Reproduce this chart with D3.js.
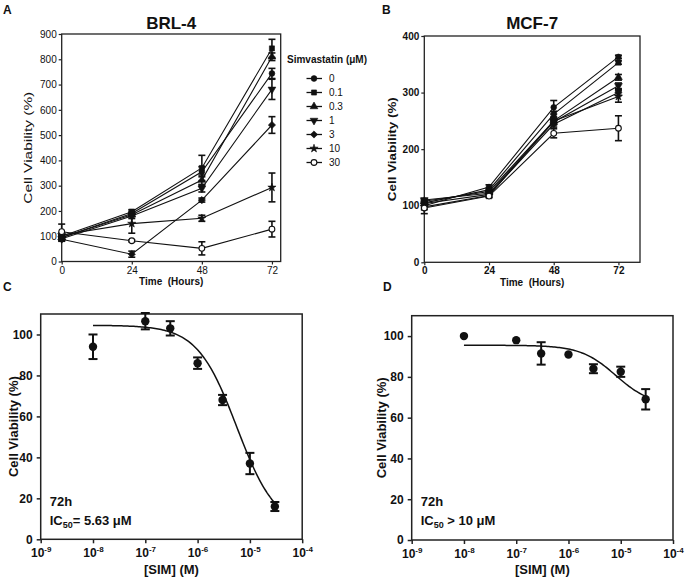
<!DOCTYPE html>
<html><head><meta charset="utf-8">
<script src="https://cdn.jsdelivr.net/npm/d3@7"></script>
<style>
body{margin:0;background:#fff}
svg{display:block}
text{font-family:"Liberation Sans",Arial,Helvetica,sans-serif;fill:#111}
</style>
</head><body>
<svg id="chart" width="687" height="580"></svg>
<script>
// ---------------- DATA ----------------
const timePoints = [0, 24, 48, 72];
const simConcs = ["0", "0.1", "0.3", "1", "3", "10", "30"];
// BRL-4 cell viability (%) per concentration at 0,24,48,72 h
const brlMeans = [
  [95, 190, 355, 744],
  [100, 197, 370, 843],
  [95, 185, 322, 810],
  [90, 180, 290, 681],
  [88, 29, 243, 540],
  [105, 150, 171, 293],
  [118, 82, 52, 128]
];
const brlErrors = [
  [8, 8, 20, 20],
  [8, 8, 50, 36],
  [8, 8, 20, 15],
  [8, 10, 15, 40],
  [8, 12, 8, 33],
  [10, 38, 12, 57],
  [30, 4, 26, 31]
];
// MCF-7
const mcfMeans = [
  [100, 133, 274, 363],
  [105, 128, 262, 353],
  [108, 125, 250, 327],
  [110, 122, 248, 312],
  [104, 120, 244, 300],
  [98, 118, 250, 293],
  [96, 117, 228, 237]
];
const mcfErrors = [
  [4, 4, 12, 3],
  [3, 3, 5, 3],
  [3, 3, 5, 5],
  [3, 3, 5, 5],
  [3, 3, 5, 5],
  [12, 3, 5, 10],
  [3, 3, 8, 22]
];
const brlYTicks = [0, 100, 200, 300, 400, 500, 600, 700, 800, 900];
const mcfYTicks = [0, 100, 200, 300, 400];

// dose response (72 h)
const doseConcs = [1e-8, 1e-7, 3e-7, 1e-6, 3e-6, 1e-5, 3e-5];
const brlDoseViab = [94, 106.5, 103, 86, 68, 37, 16];
const brlDoseErr = [6, 4, 3.5, 2.8, 2.5, 5.2, 2.2];
const mcfDoseViab = [100, 98, 91.5, 91, 84, 82.5, 69];
const mcfDoseErr = [0, 0, 5.5, 0, 2.2, 2.5, 5];
const doseYTicks = [0, 20, 40, 60, 80, 100];
const doseXTicks = [1e-9, 1e-8, 1e-7, 1e-6, 1e-5, 1e-4];
// fitted sigmoidal parameters (top, bottom, IC50 [M], Hill slope)
const brlFit = {top: 104.5, bottom: 5, ic50: 5.63e-6, hill: 1.15};
const mcfFit = {top: 95.5, bottom: 66, ic50: 8e-6, hill: 1.3};

// ---------------- DRAW ----------------
const svg = d3.select("#chart");
const FONT = '"Liberation Sans",Arial,Helvetica,sans-serif';

function markerPath(i, size) {
  const types = [d3.symbolCircle, d3.symbolSquare, d3.symbolTriangle, d3.symbolTriangle,
                 d3.symbolSquare, d3.symbolStar, d3.symbolCircle];
  return d3.symbol().type(types[i]).size(size)();
}
function markerTransform(i) {
  if (i === 3) return " rotate(180)";
  if (i === 4) return " rotate(45)";
  return "";
}
function drawMarker(g, i, cx, cy, size) {
  g.append("path")
    .attr("d", markerPath(i, i === 5 ? size * 0.8 : size))
    .attr("transform", `translate(${cx},${cy})` + markerTransform(i))
    .attr("fill", i === 6 ? "#fff" : "#111")
    .attr("stroke", "#111")
    .attr("stroke-width", i === 6 ? 1.1 : 0.6);
}

function timePanel(o) {
  const g = svg.append("g");
  const x = d3.scaleLinear().domain(o.xDomain).range(o.xRange);
  const y = d3.scaleLinear().domain(o.yDomain).range(o.yRange);

  // frame
  g.append("rect")
    .attr("x", o.xRange[0]).attr("y", o.yRange[1])
    .attr("width", o.xRange[1] - o.xRange[0]).attr("height", o.yRange[0] - o.yRange[1])
    .attr("fill", "none").attr("stroke", "#222").attr("stroke-width", 1.3);

  const ax = g.append("g").attr("transform", `translate(0,${o.yRange[0]})`)
    .call(d3.axisBottom(x).tickValues(timePoints).tickSize(3).tickSizeOuter(0).tickPadding(2));
  const ay = g.append("g").attr("transform", `translate(${o.xRange[0]},0)`)
    .call(d3.axisLeft(y).tickValues(o.yTicks).tickSize(3).tickSizeOuter(0).tickPadding(2));
  [ax, ay].forEach(a => {
    a.select(".domain").remove();
    a.selectAll("line").attr("stroke", "#222").attr("stroke-width", 1.2);
    a.selectAll("text").style("font-family", FONT).style("font-size", o.tickFont + "px")
      .style("font-weight", o.tickWeight).attr("fill", "#222");
  });

  const line = d3.line().x((d, j) => x(timePoints[j])).y(d => y(d));
  o.means.forEach((s, i) => {
    g.append("path").attr("d", line(s)).attr("fill", "none")
      .attr("stroke", "#111").attr("stroke-width", 1.1);
  });
  o.means.forEach((s, i) => {
    s.forEach((v, j) => {
      const e = o.errors[i][j];
      const cx = x(timePoints[j]);
      if (e > 0) {
        const eg = g.append("g").attr("stroke", "#111").attr("stroke-width", 1.6);
        eg.append("line").attr("x1", cx).attr("x2", cx).attr("y1", y(v - e)).attr("y2", y(v + e));
        [v - e, v + e].forEach(b => eg.append("line")
          .attr("x1", cx - 3.5).attr("x2", cx + 3.5).attr("y1", y(b)).attr("y2", y(b)));
      }
    });
  });
  o.means.forEach((s, i) => {
    s.forEach((v, j) => drawMarker(g, i, x(timePoints[j]), y(v), 26));
  });

  // title
  g.append("text").attr("x", (o.xRange[0] + o.xRange[1]) / 2).attr("y", o.titleY)
    .attr("text-anchor", "middle").style("font-size", "17px").style("font-weight", "bold")
    .text(o.title);
  // axis titles
  g.append("text").attr("x", (o.xRange[0] + o.xRange[1]) / 2).attr("y", o.xTitleY)
    .attr("text-anchor", "middle").style("font-size", "10px").style("font-weight", "bold")
    .attr("xml:space", "preserve").text("Time  (Hours)");
  g.append("text")
    .attr("transform", `translate(${o.yTitleX},${(o.yRange[0] + o.yRange[1]) / 2}) rotate(-90)`)
    .attr("text-anchor", "middle").style("font-size", "10px").style("font-weight", o.yTitleWeight)
    .attr("textLength", o.yTitleLen).attr("lengthAdjust", "spacingAndGlyphs")
    .text("Cell Viability (%)");
  return {x, y, g};
}

const pA = timePanel({
  xDomain: [0, 75], xRange: [61.7, 280.7], yDomain: [0, 900], yRange: [261.5, 34],
  yTicks: brlYTicks, means: brlMeans, errors: brlErrors, title: "BRL-4",
  titleY: 29, xTitleY: 285, yTitleX: 32, yTitleLen: 112, tickFont: 10, tickWeight: "normal", yTitleWeight: "normal"
});
const pB = timePanel({
  xDomain: [0, 80], xRange: [424.3, 640], yDomain: [0, 400], yRange: [262.3, 36],
  yTicks: mcfYTicks, means: mcfMeans, errors: mcfErrors, title: "MCF-7",
  titleY: 29, xTitleY: 286, yTitleX: 396, yTitleLen: 104, tickFont: 10, tickWeight: "bold", yTitleWeight: "bold"
});

// legend for panel A
const leg = svg.append("g");
leg.append("text").attr("x", 287).attr("y", 63).style("font-size", "10px").style("font-weight", "bold")
  .text("Simvastatin (\u03bcM)");
simConcs.forEach((c, i) => {
  const yy = 78.5 + i * 14;
  leg.append("line").attr("x1", 306.5).attr("x2", 322).attr("y1", yy).attr("y2", yy)
    .attr("stroke", "#111").attr("stroke-width", 1.3);
  drawMarker(leg, i, 314, yy, 26);
  leg.append("text").attr("x", 329).attr("y", yy + 3.8).style("font-size", "10px").text(c);
});

function dosePanel(o) {
  const g = svg.append("g");
  const x = d3.scaleLog().domain([1e-9, 1e-4]).range(o.xRange);
  const y = d3.scaleLinear().domain([0, 110]).range(o.yRange);

  g.append("rect")
    .attr("x", o.xRange[0]).attr("y", o.yRange[1])
    .attr("width", o.xRange[1] - o.xRange[0]).attr("height", o.yRange[0] - o.yRange[1])
    .attr("fill", "none").attr("stroke", "#222").attr("stroke-width", 1.5);

  const ax = g.append("g").attr("transform", `translate(0,${o.yRange[0]})`)
    .call(d3.axisBottom(x).tickValues(doseXTicks).tickSize(4).tickSizeOuter(0).tickFormat(""));
  ax.selectAll(".tick").append("text")
    .attr("y", 18).attr("text-anchor", "middle").attr("fill", "#111")
    .style("font-family", FONT).style("font-size", "12px").style("font-weight", "bold")
    .each(function(d) {
      const t = d3.select(this);
      t.append("tspan").text("10");
      t.append("tspan").attr("dy", -5).style("font-size", "8px").text(String(Math.round(Math.log10(d))));
    });
  const ay = g.append("g").attr("transform", `translate(${o.xRange[0]},0)`)
    .call(d3.axisLeft(y).tickValues(doseYTicks).tickSize(4).tickSizeOuter(0).tickPadding(4));
  [ax, ay].forEach(a => {
    a.select(".domain").remove();
    a.selectAll("line").attr("stroke", "#222").attr("stroke-width", 1.5);
  });
  ay.selectAll("text").style("font-family", FONT).style("font-size", "12px")
    .style("font-weight", "bold").attr("fill", "#111");

  // fitted curve
  const f = o.fit;
  const hill = c => f.bottom + (f.top - f.bottom) / (1 + Math.pow(c / f.ic50, f.hill));
  const samples = d3.range(0, 121).map(k => Math.pow(10, -8 + k * (Math.log10(3e-5) + 8) / 120));
  g.append("path").attr("d", d3.line().x(c => x(c)).y(c => y(hill(c)))(samples))
    .attr("fill", "none").attr("stroke", "#111").attr("stroke-width", 1.5);

  // error bars + points
  o.means.forEach((v, j) => {
    const e = o.errors[j], cx = x(doseConcs[j]);
    if (e > 0) {
      const eg = g.append("g").attr("stroke", "#111").attr("stroke-width", 2);
      eg.append("line").attr("x1", cx).attr("x2", cx).attr("y1", y(v - e)).attr("y2", y(v + e));
      [v - e, v + e].forEach(b => eg.append("line")
        .attr("x1", cx - 4.5).attr("x2", cx + 4.5).attr("y1", y(b)).attr("y2", y(b)));
    }
    g.append("circle").attr("cx", cx).attr("cy", y(v)).attr("r", 4.2).attr("fill", "#111");
  });

  // labels
  g.append("text").attr("x", (o.xRange[0] + o.xRange[1]) / 2).attr("y", 574)
    .attr("text-anchor", "middle").style("font-size", "13px").style("font-weight", "bold")
    .text("[SIM] (M)");
  g.append("text")
    .attr("transform", `translate(${o.yTitleX},${(o.yRange[0] + o.yRange[1]) / 2}) rotate(-90)`)
    .attr("text-anchor", "middle").style("font-size", "13px").style("font-weight", "bold")
    .text("Cell Viability (%)");
  g.append("text").attr("x", o.xRange[0] + 9).attr("y", 506)
    .style("font-size", "13px").style("font-weight", "bold").text("72h");
  const ic = g.append("text").attr("x", o.xRange[0] + 9).attr("y", 525)
    .style("font-size", "13px").style("font-weight", "bold");
  ic.append("tspan").text("IC");
  ic.append("tspan").attr("dy", 3).style("font-size", "9px").text("50");
  ic.append("tspan").attr("dy", -3).text(o.icText);
}

dosePanel({xRange: [40.7, 302.2], yRange: [539.3, 314], means: brlDoseViab, errors: brlDoseErr,
  fit: brlFit, yTitleX: 18, icText: "= 5.63 \u03bcM"});
dosePanel({xRange: [411.7, 673], yRange: [540, 315.7], means: mcfDoseViab, errors: mcfDoseErr,
  fit: mcfFit, yTitleX: 386, icText: " > 10 \u03bcM"});

// panel letters
[["A", 3, 14], ["B", 382, 14], ["C", 3, 291], ["D", 383, 291]].forEach(([t, px, py]) => {
  svg.append("text").attr("x", px).attr("y", py).style("font-size", "12px")
    .style("font-weight", "bold").text(t);
});
</script>
</body></html>
